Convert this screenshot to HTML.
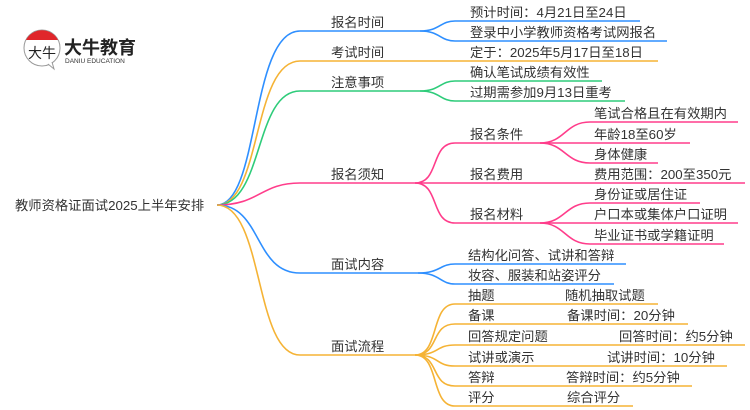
<!DOCTYPE html>
<html><head><meta charset="utf-8"><style>
html,body{margin:0;padding:0;background:#fff;width:750px;height:410px;overflow:hidden}
svg text{font-family:"Liberation Sans","Noto Sans CJK SC",sans-serif;font-size:13.3px;fill:#333}
</style></head><body>
<svg width="750" height="410" viewBox="0 0 750 410" xmlns="http://www.w3.org/2000/svg">
<!-- logo -->
<circle cx="42" cy="48" r="18" fill="#fff" stroke="#999" stroke-width="1"/>
<path d="M26 40 A18 18 0 0 1 58 40 Z" fill="#e0262b"/>
<path d="M48 64 L54 69 L52 62" fill="#fff" stroke="#999" stroke-width="1"/>
<text x="28" y="58" style="font-size:14px;fill:#222">大牛</text>
<text x="64" y="54" style="font-size:18px;font-weight:bold;fill:#222">大牛教育</text>
<text x="65" y="63" style="font-size:6.5px;fill:#333">DANIU EDUCATION</text>
<!-- root -->
<text x="15" y="210">教师资格证面试2025上半年安排</text>
<g fill="none" stroke-width="1.6">
<g stroke="#2e8fff">
<path d="M217 205 C260 205,250 31,300 31 L420 31"/>
<path d="M420 31 C440 31,440 21,455 21 L640 21"/>
<path d="M420 31 C440 31,440 41,455 41 L667 41"/>
</g>
<g stroke="#f5b335">
<path d="M217 205 C262 205,252 61,300 61 L658 61"/>
</g>
<g stroke="#2ecc7a">
<path d="M217 205 C264 205,254 91,300 91 L420 91"/>
<path d="M420 91 C440 91,440 81,455 81 L602 81"/>
<path d="M420 91 C440 91,440 101,455 101 L625 101"/>
</g>
<g stroke="#ff3d8b">
<path d="M217 205 C260 205,260 183,300 183 L415 183"/>
<path d="M415 183 C440 183,430 143,455 143 L540 143"/>
<path d="M415 183 L745 183"/>
<path d="M415 183 C440 183,430 223,455 223 L540 223"/>
<path d="M540 143 C565 143,565 122,590 122 L738 122"/>
<path d="M540 143 L690 143"/>
<path d="M540 143 C565 143,565 163,590 163 L658 163"/>
<path d="M540 223 C565 223,565 203,590 203 L700 203"/>
<path d="M540 223 L738 223"/>
<path d="M540 223 C565 223,565 244,590 244 L724 244"/>
</g>
<g stroke="#2e8fff">
<path d="M217 205 C262 205,254 273,300 273 L418 273"/>
<path d="M418 273 C440 273,440 264,455 264 L626 264"/>
<path d="M418 273 C440 273,440 284,455 284 L614 284"/>
</g>
<g stroke="#f5b335">
<path d="M217 205 C264 205,254 355,300 355 L415 355"/>
<path d="M415 355 C440 355,430 304,455 304 L658 304"/>
<path d="M415 355 C440 355,430 324,455 324 L688 324"/>
<path d="M415 355 C440 355,435 345,455 345 L745 345"/>
<path d="M415 355 C440 355,435 366,455 366 L727 366"/>
<path d="M415 355 C440 355,430 386,455 386 L692 386"/>
<path d="M415 355 C440 355,430 406,455 406 L633 406"/>
</g>
</g>
<text x="331" y="27">报名时间</text>
<text x="331" y="57">考试时间</text>
<text x="331" y="87">注意事项</text>
<text x="331" y="179">报名须知</text>
<text x="331" y="269">面试内容</text>
<text x="331" y="351">面试流程</text>
<text x="470" y="17">预计时间：4月21日至24日</text>
<text x="470" y="37">登录中小学教师资格考试网报名</text>
<text x="470" y="57">定于：2025年5月17日至18日</text>
<text x="470" y="77">确认笔试成绩有效性</text>
<text x="470" y="97">过期需参加9月13日重考</text>
<text x="470" y="139">报名条件</text>
<text x="470" y="179">报名费用</text>
<text x="470" y="219">报名材料</text>
<text x="594" y="118">笔试合格且在有效期内</text>
<text x="594" y="139">年龄18至60岁</text>
<text x="594" y="159">身体健康</text>
<text x="594" y="179">费用范围：200至350元</text>
<text x="594" y="199">身份证或居住证</text>
<text x="594" y="219">户口本或集体户口证明</text>
<text x="594" y="240">毕业证书或学籍证明</text>
<text x="468" y="260">结构化问答、试讲和答辩</text>
<text x="468" y="280">妆容、服装和站姿评分</text>
<text x="468" y="300">抽题</text>
<text x="468" y="320">备课</text>
<text x="468" y="341">回答规定问题</text>
<text x="468" y="362">试讲或演示</text>
<text x="468" y="382">答辩</text>
<text x="468" y="402">评分</text>
<text x="565" y="300">随机抽取试题</text>
<text x="567" y="320">备课时间：20分钟</text>
<text x="619" y="341">回答时间：约5分钟</text>
<text x="607" y="362">试讲时间：10分钟</text>
<text x="566" y="382">答辩时间：约5分钟</text>
<text x="567" y="402">综合评分</text>
</svg>
</body></html>
